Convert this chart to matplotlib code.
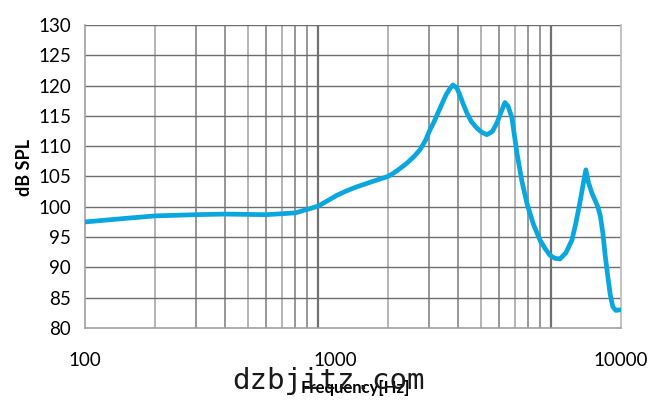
import matplotlib
matplotlib.use("Agg")
import matplotlib.pyplot as plt

plt.rcParams["font.family"] = ["Lato", "DejaVu Sans"]

# frequency response
freq = [100, 150, 200, 300, 400, 600, 800, 905, 1000, 1100, 1206, 1340, 1469,
        1721, 1995, 2120, 2248, 2410, 2600, 2740, 2900, 3026, 3150, 3275, 3400,
        3550, 3700, 3797, 3950, 4050, 4200, 4357, 4550, 4808, 5050, 5309, 5600,
        5861, 6150, 6350, 6550, 6803, 7148, 7500, 7890, 8400, 8978, 9450, 9910,
        10400, 10940, 11600, 12310, 12800, 13310, 13800, 14130, 14500, 14990,
        15910, 16300, 16710, 17100, 17570, 18000, 18450, 19000, 19770]
spl = [97.5, 98.1, 98.5, 98.7, 98.8, 98.7, 99.0, 99.6, 100.1, 101.0, 101.9, 102.7, 103.3,
       104.2, 105.0, 105.6, 106.3, 107.2, 108.4, 109.4, 111.0, 112.7, 114.0, 115.5, 116.9,
       118.5, 119.6, 120.1, 119.6, 118.6, 117.0, 115.5, 114.1, 113.0, 112.3, 111.9, 112.4,
       113.8, 115.9, 117.2, 116.6, 114.7, 108.9, 104.3, 100.6, 97.2, 94.5, 93.1, 92.0,
       91.5, 91.4, 92.4, 94.5, 97.3, 100.6, 104.0, 106.1, 104.0, 102.3,
       100.0, 98.5, 95.7, 92.0, 88.4, 85.4, 83.5, 82.9, 83.0]

yticks = [80, 85, 90, 95, 100, 105, 110, 115, 120, 125, 130]
xtick_pos = [100, 1183, 20000]
xtick_labels = ["100", "1000", "10000"]

fig = plt.figure(figsize=(6.61, 4.04), dpi=100)
ax = fig.add_axes([85 / 661, 76 / 404, 536 / 661, 303 / 404])

ax.set_xscale("log")
ax.set_xlim(100, 20000)
ax.set_ylim(80, 130)

# vertical grid (printed log paper)
light = [200, 500, 700, 2000, 5000, 7000]
for e in (2, 3):
    for m in range(2, 11):
        f = m * 10 ** e
        if m == 10:
            ax.axvline(f, color="#707070", lw=1.6, zorder=1)
        elif f in light:
            ax.axvline(f, color="#a8a8a8", lw=1.2, zorder=1)
        else:
            ax.axvline(f, color="#7a7a7a", lw=1.1, zorder=1)

for y in yticks[1:]:
    ax.axhline(y, color="#6e6e6e", lw=1.0, zorder=1)

ax.plot(freq, spl, color="#0aa6de", lw=3.4, solid_capstyle="round",
        solid_joinstyle="round", zorder=3)

ax.set_yticks(yticks)
ax.set_xticks(xtick_pos)
ax.set_xticklabels(xtick_labels)
ax.minorticks_off()
ax.tick_params(axis="both", length=0, labelsize=13.5, colors="black")
ax.tick_params(axis="y", pad=10)
ax.tick_params(axis="x", pad=17)

ax.spines["top"].set_visible(False)
ax.spines["left"].set_color("#a0a0a0")
ax.spines["bottom"].set_color("#a0a0a0")
ax.spines["right"].set_color("#b8b8b8")
for s in ("left", "bottom", "right"):
    ax.spines[s].set_linewidth(1.2)

fig.text(25 / 661, 1 - 168 / 404, "dB SPL", rotation=90, fontsize=13,
         fontweight="bold", ha="center", va="center")
fig.text(355 / 661, 1 - 388 / 404, "Frequency[Hz]", fontsize=12,
         fontweight="bold", ha="center", va="center")
fig.text(328 / 661, 1 - 381 / 404, "dzbjitz.com", fontsize=21,
         family="DejaVu Sans Mono", color="#1a1a1a", ha="center", va="center")

fig.savefig("out.png", dpi=100)
